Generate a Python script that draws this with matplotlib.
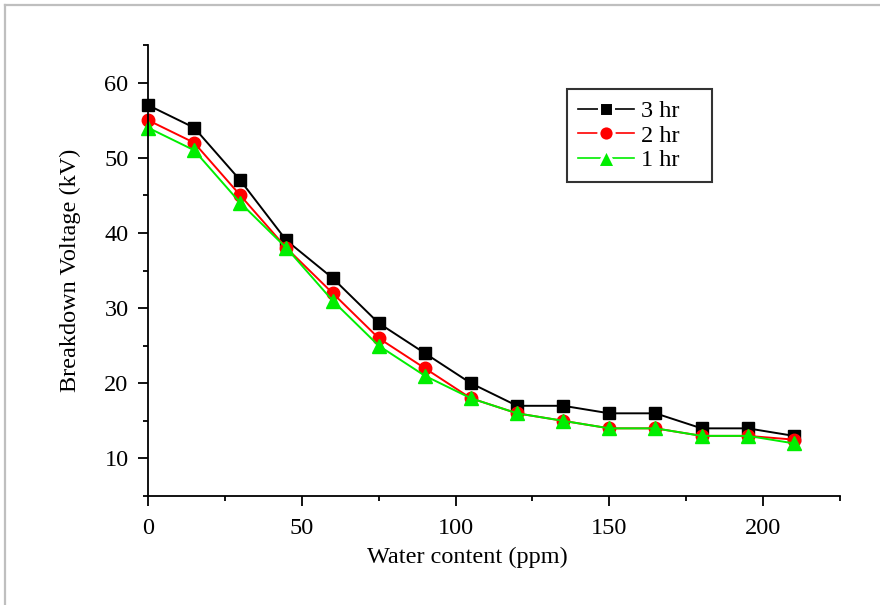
import matplotlib
matplotlib.use("Agg")
import matplotlib.pyplot as plt
from matplotlib.lines import Line2D
from matplotlib.ticker import MultipleLocator

# data
water_ppm = [0, 15, 30, 45, 60, 75, 90, 105, 120, 135, 150, 165, 180, 195, 210]
bdv_3hr = [57, 54, 47, 39, 34, 28, 24, 20, 17, 17, 16, 16, 14, 14, 13]
bdv_2hr = [55, 52, 45, 38, 32, 26, 22, 18, 16, 15, 14, 14, 13, 13, 12.5]
bdv_1hr = [54, 51, 44, 38, 31, 25, 21, 18, 16, 15, 14, 14, 13, 13, 12]
series_labels = ["3 hr", "2 hr", "1 hr"]

FS = 17.5
plt.rcParams["font.family"] = ["Liberation Serif", "DejaVu Serif"]
plt.rcParams["font.size"] = FS

fig = plt.figure(figsize=(8.8, 6.05), dpi=100)
fig.patch.set_facecolor("white")

# light grey frame around the picture (top and left edges only visible)
fig.add_artist(Line2D([5 / 880, 5 / 880], [0, 1 - 5 / 605],
                      transform=fig.transFigure, color="#bfbfbf", lw=1.6))
fig.add_artist(Line2D([5 / 880, 1], [1 - 5 / 605, 1 - 5 / 605],
                      transform=fig.transFigure, color="#bfbfbf", lw=1.6))

ax = fig.add_axes([148 / 880, 109 / 605, 692 / 880, 451 / 605])

styles = [
    dict(color="black", marker="s", ms=8.5, mfc="black", mec="black"),
    dict(color="red", marker="o", ms=9, mfc="red", mec="red"),
    dict(color="#00ee00", marker="^", ms=10, mfc="#00ee00", mec="#00ee00"),
]
for vals, lab, st in zip([bdv_3hr, bdv_2hr, bdv_1hr], series_labels, styles):
    ax.plot(water_ppm, vals, lw=1.4, label=lab, clip_on=False, **st)

ax.set_xlim(0, 225)
ax.set_ylim(5, 65)
ax.xaxis.set_major_locator(MultipleLocator(50))
ax.xaxis.set_minor_locator(MultipleLocator(25))
ax.yaxis.set_major_locator(MultipleLocator(10))
ax.yaxis.set_minor_locator(MultipleLocator(5))

for s in ["top", "right"]:
    ax.spines[s].set_visible(False)
for s in ["left", "bottom"]:
    ax.spines[s].set_linewidth(1.3)

ax.tick_params(which="major", direction="out", length=7, width=1.3, labelsize=FS)
ax.tick_params(which="minor", direction="out", length=3.5, width=1.3)
ax.tick_params(axis="y", which="major", pad=7)
ax.tick_params(axis="x", which="major", pad=9)

ax.set_xlabel("Water content (ppm)", fontsize=FS)
ax.xaxis.set_label_coords(0.461, -0.112)   # sits a bit left of centre in the original
ax.set_ylabel("Breakdown Voltage (kV)", fontsize=FS, labelpad=17)

leg = ax.legend(loc="upper left", bbox_to_anchor=(0.605, 0.902, 0.2095, 0.0),
                mode="expand", frameon=True, fancybox=False, fontsize=FS,
                handlelength=2.3, handletextpad=0.3, labelspacing=0.1,
                borderpad=0.45, borderaxespad=0, numpoints=1)
leg.get_frame().set_edgecolor("black")
leg.get_frame().set_linewidth(1.5)
for h, ms in zip(leg.legend_handles, [10.5, 11, 12.5]):
    h.set_linewidth(1.2)
    # white rim around the legend markers breaks the line like in the original
    h.set_markersize(ms)
    h.set_markeredgecolor("white")
    h.set_markeredgewidth(2.2)

fig.savefig("out.png", dpi=100, facecolor="white")
